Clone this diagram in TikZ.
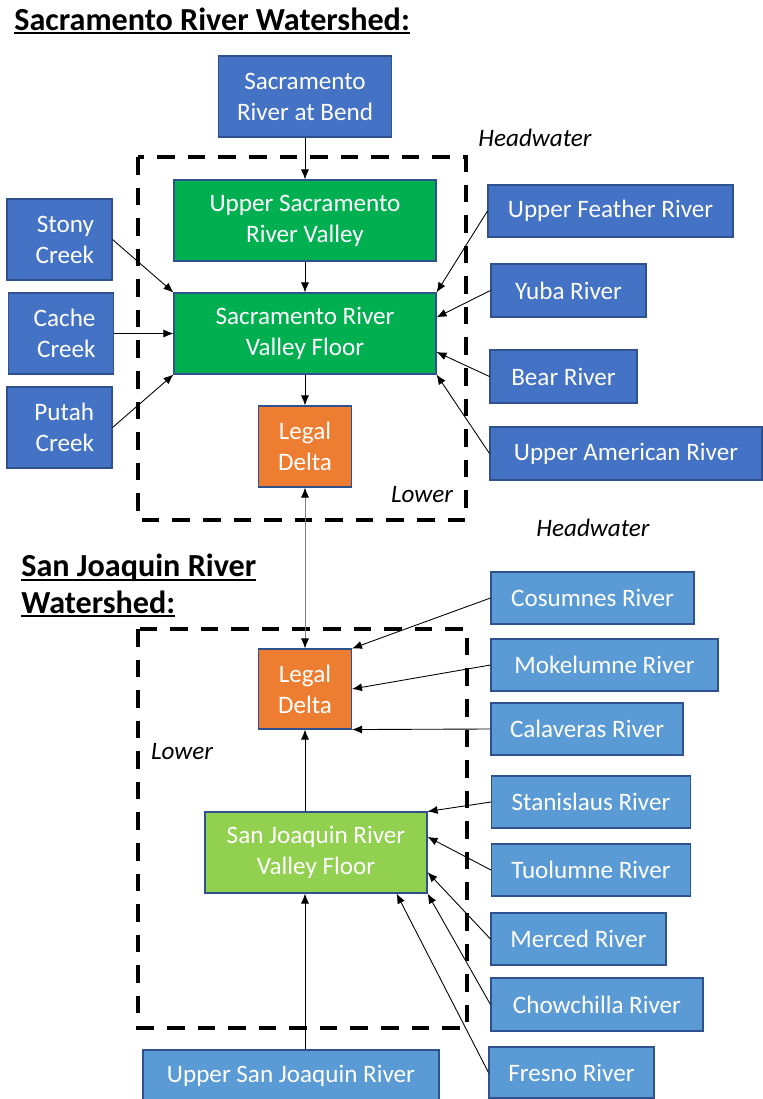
\documentclass[tikz,border=0pt]{standalone}
\usepackage{fontspec}
\setmainfont{Carlito}
\usetikzlibrary{arrows.meta}

\definecolor{darkblue}{RGB}{68,114,196}
\definecolor{lightblue}{RGB}{91,155,213}
\definecolor{boxgreen}{RGB}{0,176,80}
\definecolor{lightgreen}{RGB}{146,208,80}
\definecolor{deltaorange}{RGB}{237,125,49}
\definecolor{edgeblue}{RGB}{47,82,143}

\newcommand{\titleline}[1]{\setbox0=\hbox{#1}\rlap{\copy0}\rule[-2.4pt]{\wd0}{1.2pt}}

\begin{document}
\begin{tikzpicture}[x=0.02cm, y=-0.02cm,
	box/.style={draw=edgeblue, line width=0.6pt, text=white, align=center, inner sep=0pt, font=\fontsize{14.3}{17.6}\selectfont},
	boxsize/.style 2 args={minimum width=#1*0.02cm, minimum height=#2*0.02cm},
	src/.style={box, fill=darkblue},
	tribsrc/.style={box, fill=lightblue},
	creek/.style={src, align=right, text width=1.38cm, inner xsep=0.36cm},
	valley/.style={box, fill=boxgreen},
	deltabox/.style={box, fill=deltaorange},
	flow/.style={-{Latex[length=2mm,width=1.6mm]}, line width=0.5pt},
	region/.style={line width=2.3pt, dash pattern=on 10pt off 7.4pt},
	tag/.style={font=\fontsize{14.3}{17}\selectfont\itshape, inner sep=0pt},
	heading/.style={font=\fontsize{18.3}{20.5}\selectfont\bfseries, align=left, inner sep=0pt, anchor=base west}
	]
	\useasboundingbox (0,0) rectangle (762,1099);

	% Titulos
	\node[heading] (sactitle) at (14,30) {\titleline{Sacramento River Watershed:}};
	\node[heading] (sjtitle) at (21,613) {\titleline{San Joaquin River}\\\titleline{Watershed:}};

	% Zonas
	\draw[region] (138,157) rectangle (466,520);
	\draw[region] (138,629) rectangle (467,1028);
	\node[tag] (headN) at (535,138) {Headwater};
	\node[tag] (lowerN) at (422,495) {Lower};
	\node[tag] (headS) at (593,528) {Headwater};
	\node[tag] (lowerS) at (182,752) {Lower};

	% Cuenca del Sacramento
	\node[src, boxsize={173}{81}] (bend) at (305,96.5) {Sacramento\\River at Bend};
	\node[valley, boxsize={262}{81}] (uppersac) at (305,220.5) {Upper Sacramento\\River Valley};
	\node[valley, boxsize={262}{81}] (sacfloor) at (305,333.5) {Sacramento River\\Valley Floor};
	\node[deltabox, boxsize={93}{81}] (deltaN) at (305,446.5) {Legal\\Delta};

	\node[creek, boxsize={105}{81}] (stony) at (59.5,239.5) {Stony\\Creek};
	\node[creek, boxsize={104}{81}] (cache) at (61,333.5) {Cache\\Creek};
	\node[creek, boxsize={105}{81}] (putah) at (59.5,427.5) {Putah\\Creek};

	\node[src, boxsize={245}{52}] (feather) at (610.5,211) {Upper Feather River};
	\node[src, boxsize={155}{53}] (yuba) at (568.5,290.5) {Yuba River};
	\node[src, boxsize={147}{53}] (bear) at (563.5,376.5) {Bear River};
	\node[src, boxsize={272}{53}] (american) at (626,453.5) {Upper American River};

	% Cuenca del San Joaquin
	\node[deltabox, boxsize={93}{80}] (deltaS) at (305,689) {Legal\\Delta};
	\node[box, fill=lightgreen, boxsize={222}{81}] (sjfloor) at (316,852.5) {San Joaquin River\\Valley Floor};
	\node[tribsrc, boxsize={296}{52}] (uppersj) at (291,1076) {Upper San Joaquin River};

	\node[tribsrc, boxsize={203}{52}] (cosumnes) at (592.5,598) {Cosumnes River};
	\node[tribsrc, boxsize={227}{52}] (mokelumne) at (604.5,665) {Mokelumne River};
	\node[tribsrc, boxsize={192}{52}] (calaveras) at (587,729) {Calaveras River};
	\node[tribsrc, boxsize={199}{52}] (stanislaus) at (591,802) {Stanislaus River};
	\node[tribsrc, boxsize={199}{52}] (tuolumne) at (591,870) {Tuolumne River};
	\node[tribsrc, boxsize={175}{52}] (merced) at (578.5,939) {Merced River};
	\node[tribsrc, boxsize={212}{53}] (chowchilla) at (597,1004.5) {Chowchilla River};
	\node[tribsrc, boxsize={165}{51}] (fresno) at (571.5,1072.5) {Fresno River};

	% Flechas Sacramento
	\draw[flow] (bend.south) -- (uppersac.north);
	\draw[flow] (uppersac.south) -- (sacfloor.north);
	\draw[flow] (sacfloor.south) -- (deltaN.north);
	\draw[flow] (stony.east) -- (sacfloor.north west);
	\draw[flow] (cache.east) -- (sacfloor.west);
	\draw[flow] (putah.east) -- (sacfloor.south west);
	\draw[flow] (feather.west) -- (sacfloor.north east);
	\draw[flow] (yuba.west) -- (sacfloor.7);
	\draw[flow] (bear.west) -- (sacfloor.-8.5);
	\draw[flow] (american.west) -- (sacfloor.south east);

	% Conexion entre deltas
	\draw[gray, line width=0.5pt, {Latex[length=2mm,width=1.6mm,color=black]}-{Latex[length=2mm,width=1.6mm,color=black]}] (deltaN.south) -- (deltaS.north);

	% Flechas San Joaquin
	\draw[flow] (cosumnes.west) -- (deltaS.north east);
	\draw[flow] (mokelumne.west) -- (deltaS.east);
	\draw[flow] (calaveras.west) -- (deltaS.south east);
	\draw[flow] (deltaS.south |- sjfloor.north) -- (deltaS.south);
	\draw[flow] (deltaS.south |- uppersj.north) -- (deltaS.south |- sjfloor.south);
	\draw[flow] (stanislaus.west) -- (sjfloor.north east);
	\draw[flow] (tuolumne.west) -- (sjfloor.8.5);
	\draw[flow] (merced.west) -- (sjfloor.-10);
	\draw[flow] (chowchilla.west) -- (sjfloor.south east);
	\draw[flow] (fresno.west) -- (sjfloor.-27);
\end{tikzpicture}
\end{document}
